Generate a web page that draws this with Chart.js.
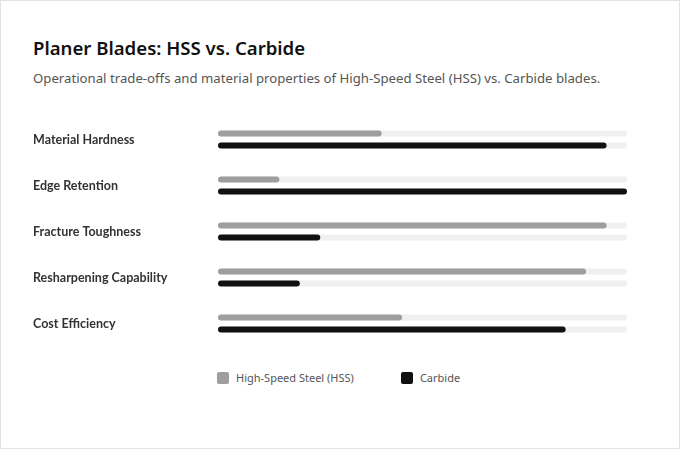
<!DOCTYPE html>
<html>
<head>
<meta charset="utf-8">
<script src="https://cdn.jsdelivr.net/npm/chart.js@4/dist/chart.umd.min.js"></script>
<style>
  html, body { margin: 0; padding: 0; background: #fff; }
  .card {
    position: relative;
    width: 680px; height: 449px;
    box-sizing: border-box;
    border: 1px solid #e2e2e2;
    font-family: "Noto Sans", "Open Sans", sans-serif;
  }
  h1 {
    position: absolute; left: 32px; top: 34px; margin: 0;
    font-size: 18.6px; font-weight: 600; color: #111;
  }
  p.sub {
    position: absolute; left: 32px; top: 68px; margin: 0;
    font-size: 13.2px; color: #555;
  }
  .wrap { position: absolute; left: 32px; top: 105px; width: 600px; height: 251px; }
  #legend {
    position: absolute; left: 216px; top: 369px;
    display: flex; gap: 47px;
    font-size: 11px; color: #555;
  }
  #legend span.item { display: flex; align-items: center; }
  #legend span.box { width: 12px; height: 12px; border-radius: 2px; margin-right: 7px; }
</style>
</head>
<body>
<div class="card">
  <h1>Planer Blades: HSS vs. Carbide</h1>
  <p class="sub">Operational trade-offs and material properties of High-Speed Steel (HSS) vs. Carbide blades.</p>
  <div class="wrap"><canvas id="chart"></canvas></div>
  <div id="legend"></div>
</div>
<script>
const categories = ['Material Hardness', 'Edge Retention', 'Fracture Toughness', 'Resharpening Capability', 'Cost Efficiency']
const hss = [40, 15, 95, 90, 45]
const carbide = [95, 100, 25, 20, 85]
const track = [100, 100, 100, 100, 100]

const ctx = document.getElementById('chart').getContext('2d')

const barStyle = {
    categoryPercentage: 24 / 46,
    barPercentage: 0.5,
    borderRadius: 3,
    borderSkipped: false
}

// legend drawn as html so the item spacing can match
const htmlLegend = {
    id: 'htmlLegend',
    afterUpdate(chart) {
        const box = document.getElementById('legend')
        box.innerHTML = ''
        chart.options.plugins.legend.labels.generateLabels(chart)
            .filter(item => !item.text.startsWith('track'))
            .forEach(item => {
                const el = document.createElement('span')
                el.className = 'item'
                el.innerHTML = '<span class="box" style="background:' + item.fillStyle + '"></span>' + item.text
                box.appendChild(el)
            })
    }
}

new Chart(ctx, {
    type: 'bar',
    data: {
        labels: categories,
        datasets: [
            { label: 'High-Speed Steel (HSS)', data: hss, backgroundColor: '#9e9e9e', stack: 'hss', order: 1, ...barStyle },
            { label: 'track-hss', data: track, backgroundColor: '#f0f0f0', stack: 'hss', order: 2, ...barStyle },
            { label: 'Carbide', data: carbide, backgroundColor: '#111111', stack: 'carbide', order: 1, ...barStyle },
            { label: 'track-carbide', data: track, backgroundColor: '#f0f0f0', stack: 'carbide', order: 2, ...barStyle }
        ]
    },
    options: {
        indexAxis: 'y',
        responsive: true,
        maintainAspectRatio: false,
        animation: false,
        layout: { padding: { top: 7, right: 6, bottom: 0, left: 0 } },
        scales: {
            x: {
                display: false,
                stacked: false,
                min: 0,
                max: 100
            },
            y: {
                grid: { display: false },
                border: { display: false },
                ticks: {
                    crossAlign: 'far',
                    color: '#333',
                    font: { family: 'Lato, "Noto Sans", sans-serif', size: 12.5, weight: 'bold' }
                },
                afterFit: (scale) => { scale.width = 185 }
            }
        },
        plugins: {
            tooltip: { enabled: false },
            legend: { display: false }
        }
    },
    plugins: [htmlLegend]
})
</script>
</body>
</html>
